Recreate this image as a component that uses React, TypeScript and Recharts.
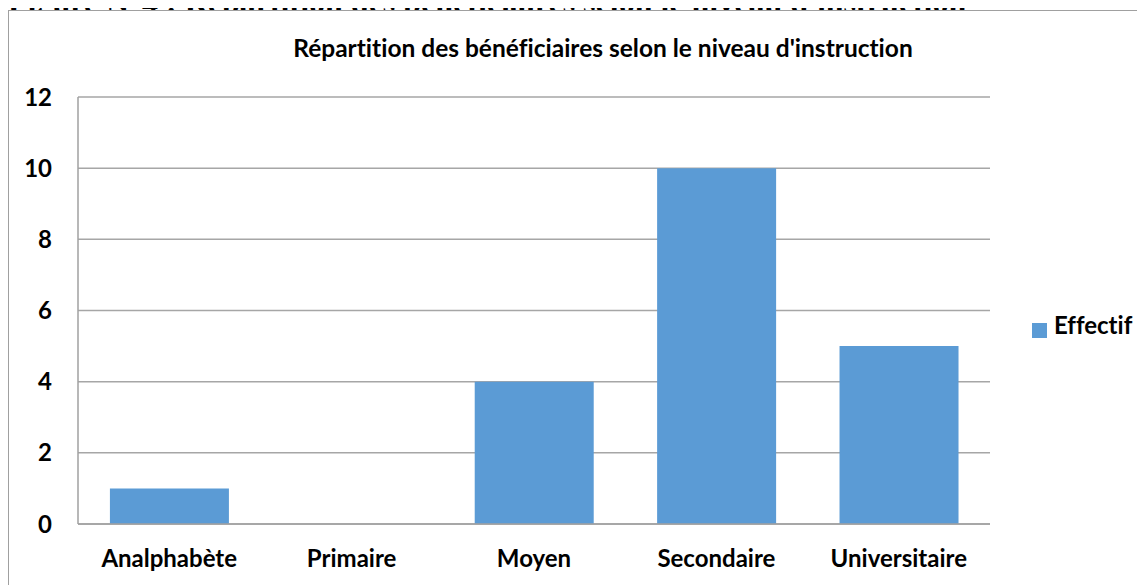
import { Bar, BarChart, CartesianGrid, Legend, XAxis, YAxis } from "recharts";

const niveaux = ["Analphabète", "Primaire", "Moyen", "Secondaire", "Universitaire"];
const effectifs = [1, 0, 4, 10, 5];
const yTicks = [0, 2, 4, 6, 8, 10, 12];

const data = niveaux.map((niveau, i) => ({ niveau, Effectif: effectifs[i] }));

const font = "Lato, 'Open Sans', sans-serif";
const noLig = { fontVariantLigatures: "none" as const };

export default function App() {
  return (
    <div style={{ position: "relative", width: 1137, height: 577, overflow: "visible" }}>
      <div
        style={{
          position: "absolute",
          left: 0,
          top: -26,
          fontFamily: "'Liberation Serif', 'Times New Roman', serif",
          fontWeight: "bold",
          fontSize: 32,
          lineHeight: "40px",
          whiteSpace: "nowrap",
          color: "#000",
        }}
      >
        Figure N°4 : Répartition des bénéficiaires selon le niveau d'instruction
      </div>
      {/* chart frame, white so it hides the caption's descenders */}
      <div
        style={{
          position: "absolute",
          left: 0,
          top: 2,
          width: 1160,
          height: 600,
          border: "1.5px solid #a0a0a0",
          boxSizing: "border-box",
          background: "#fff",
        }}
      />
      <div
        style={{
          position: "absolute",
          left: 0,
          top: 25,
          width: 1190,
          textAlign: "center",
          fontFamily: font,
          fontWeight: "bold",
          fontSize: 24.5,
          lineHeight: "30px",
          color: "#000",
          ...noLig,
        }}
      >
        Répartition des bénéficiaires selon le niveau d'instruction
      </div>
      <div style={{ position: "absolute", left: 0, top: 0 }}>
        <BarChart
          width={1130}
          height={577}
          data={data}
          barCategoryGap="17.5%"
          margin={{ top: 89, right: 28, left: 0, bottom: 0 }}
        >
          <CartesianGrid vertical={false} stroke="#a6a6a6" strokeWidth={1.5} />
          <XAxis
            dataKey="niveau"
            height={61}
            tickLine={false}
            tickSize={0}
            tickMargin={26}
            axisLine={{ stroke: "#a0a0a0", strokeWidth: 1.5 }}
            tick={{ fill: "#000", fontSize: 24, fontWeight: "bold", fontFamily: font, style: noLig }}
          />
          <YAxis
            width={70}
            domain={[0, 12]}
            ticks={yTicks}
            interval={0}
            tickLine={false}
            tickSize={0}
            tickMargin={26}
            axisLine={{ stroke: "#a0a0a0", strokeWidth: 1.5 }}
            tick={{ fill: "#000", fontSize: 24, fontWeight: "bold", fontFamily: font }}
          />
          <Legend
            layout="vertical"
            align="right"
            verticalAlign="middle"
            iconType="square"
            iconSize={15}
            wrapperStyle={{ left: 1024, right: "auto", top: 302, width: 120 }}
            formatter={(value) => (
              <span
                style={{
                  color: "#000",
                  fontSize: 24,
                  fontWeight: "bold",
                  fontFamily: font,
                  marginLeft: 3,
                  ...noLig,
                }}
              >
                {value}
              </span>
            )}
          />
          <Bar dataKey="Effectif" fill="#5b9bd5" isAnimationActive={false} />
        </BarChart>
      </div>
    </div>
  );
}
